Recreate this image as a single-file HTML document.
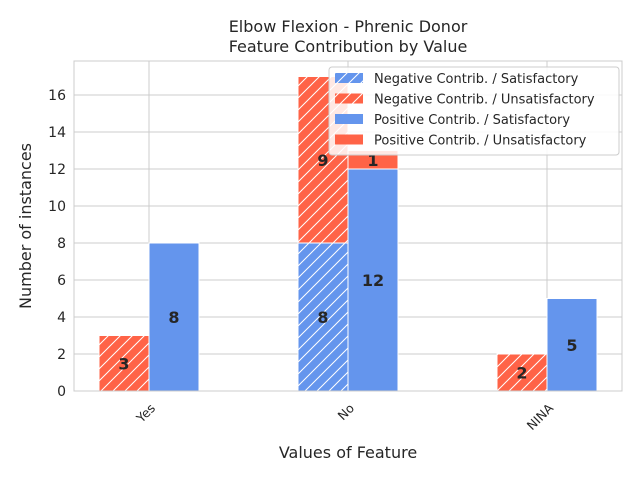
<!DOCTYPE html>
<html><head><meta charset="utf-8"><style>
body{margin:0;background:#fff;font-family:"Liberation Sans","DejaVu Sans",sans-serif}
svg text{font-family:"DejaVu Sans","Liberation Sans",sans-serif}
</style></head><body>
<svg id="chart" width="640" height="480" xmlns="http://www.w3.org/2000/svg">
<defs>
<pattern id="hatch" patternUnits="userSpaceOnUse" width="12" height="12">
<path d="M-3,3 L3,-3 M0,12 L12,0 M9,15 L15,9" stroke="#fff" stroke-width="1"/>
</pattern>
</defs>
<rect width="640" height="480" fill="#fff"/>
<g id="grid"></g>
<g id="bars"></g>
<g id="labels"></g>
<rect x="74" y="61" width="548" height="330" fill="none" stroke="#cccccc" stroke-width="1"/>
<g id="ticks"></g>
<text x="348" y="32" text-anchor="middle" font-size="16" fill="#262626">Elbow Flexion - Phrenic Donor</text>
<text x="348" y="52" text-anchor="middle" font-size="16" fill="#262626">Feature Contribution by Value</text>
<text x="348" y="458" text-anchor="middle" font-size="16" fill="#262626">Values of Feature</text>
<text x="31" y="226" text-anchor="middle" font-size="16" fill="#262626" transform="rotate(-90 31 226)">Number of instances</text>
<g>
<rect x="329" y="67" width="290" height="88" rx="3" fill="#fff" fill-opacity="0.85" stroke="#cccccc"/>
<g id="legend"></g>
</g>
</svg>
<script>
const categories=["Yes","No","NINA"];
const negSat=[0,8,0];
const negUnsat=[3,9,2];
const posSat=[8,12,5];
const posUnsat=[0,1,0];
const yTicks=[0,2,4,6,8,10,12,14,16];
const legendLabels=["Negative Contrib. / Satisfactory","Negative Contrib. / Unsatisfactory","Positive Contrib. / Satisfactory","Positive Contrib. / Unsatisfactory"];

const NS="http://www.w3.org/2000/svg";
const BLUE="#6495ED",RED="#FF6347";
const y=v=>391-v*18.5;
const xc=i=>149+i*199;
const BW=50;
function mk(tag,attrs,parent){const e=document.createElementNS(NS,tag);for(const k in attrs)e.setAttribute(k,attrs[k]);parent.appendChild(e);return e;}
const grid=document.getElementById('grid'),bars=document.getElementById('bars'),labels=document.getElementById('labels'),ticks=document.getElementById('ticks'),legend=document.getElementById('legend');
yTicks.forEach(t=>{
  const l=mk('line',{x1:74,x2:622,y1:y(t),y2:y(t),stroke:'#cccccc'},grid);
  
  
  const tx=mk('text',{x:66,y:y(t)+5,'text-anchor':'end','font-size':14,fill:'#262626'},ticks);
  tx.textContent=t;
  
  
});
categories.forEach((c,i)=>{
  const l=mk('line',{x1:xc(i),x2:xc(i),y1:61,y2:391,stroke:'#cccccc'},grid);
  
  
  const tx=mk('text',{x:xc(i)+7,y:409,'text-anchor':'end','font-size':12.5,fill:'#262626',transform:`rotate(-45 ${xc(i)+7} 409)`},ticks);
  tx.textContent=c;
  
  
});
function seg(x0,base,val,color,hatch,name){
  if(val<=0)return;
  const r=mk('rect',{x:x0,y:y(base+val),width:BW,height:val*18.5,fill:color,stroke:'#fff','stroke-width':1},bars);
  
  
  if(hatch){const h=mk('rect',{x:x0,y:y(base+val),width:BW,height:val*18.5,fill:'url(#hatch)'},bars);
    
    }
  const t=mk('text',{x:x0+BW/2,y:y(base+val/2)+6,'text-anchor':'middle','font-size':16,'font-weight':'bold',fill:'#262626'},labels);
  t.textContent=val;
  
  
}
categories.forEach((c,i)=>{
  seg(xc(i)-BW,0,negSat[i],BLUE,true,'bar-neg-sat-'+c.toLowerCase());
  seg(xc(i)-BW,negSat[i],negUnsat[i],RED,true,'bar-neg-unsat-'+c.toLowerCase());
  seg(xc(i),0,posSat[i],BLUE,false,'bar-pos-sat-'+c.toLowerCase());
  seg(xc(i),posSat[i],posUnsat[i],RED,false,'bar-pos-unsat-'+c.toLowerCase());
});
legendLabels.forEach((s,k)=>{
  const ly=73+k*20.5;
  const col=(k%2==0)?BLUE:RED;
  const r=mk('rect',{x:335,y:ly,width:28,height:10,fill:col},legend);
  
  
  if(k<2){mk('rect',{x:335,y:ly,width:28,height:10,fill:'url(#hatch)'},legend);}
  const t=mk('text',{x:374,y:ly+10,'font-size':13,fill:'#262626'},legend);
  t.textContent=s;
  
  
});
</script>
</body></html>
